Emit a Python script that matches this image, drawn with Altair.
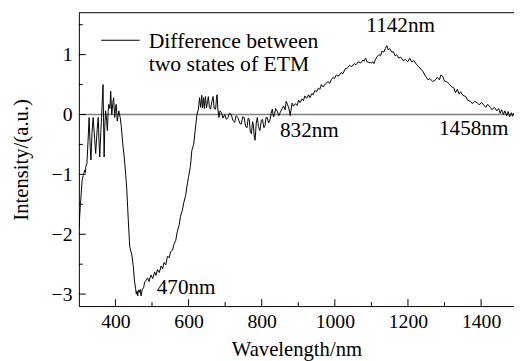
import altair as alt
import pandas as pd

# ---- data ----
wavelength = [
    300, 304, 309, 312, 314, 316, 318, 319, 322, 325, 328, 331, 333, 336, 339, 343, 346, 350, 353, 355,
    357, 360, 362, 366, 369, 371, 373, 376, 378, 380, 382, 385, 387, 390, 393, 395, 398, 400, 402, 405,
    409, 413, 416, 420, 424, 428, 431, 435, 439, 445, 449, 452, 455, 457, 459, 461, 463, 466, 468, 470,
    473, 477, 480, 483, 488, 492, 497, 502, 507, 511, 515, 520, 525, 529, 533, 538, 542, 547, 551, 556,
    560, 565, 569, 574, 578, 583, 587, 592, 596, 600, 605, 609, 614, 618, 623, 627, 630, 633, 636, 638,
    641, 643, 646, 649, 652, 654, 657, 660, 664, 667, 670, 674, 676, 678, 680, 683, 686, 690, 694, 699,
    703, 708, 712, 717, 721, 726, 730, 735, 740, 744, 748, 752, 756, 760, 763, 766, 769, 772, 775, 777,
    780, 782, 785, 788, 791, 795, 799, 802, 806, 809, 812, 815, 819, 822, 826, 829, 832, 835, 838, 842,
    847, 851, 856, 860, 864, 867, 871, 874, 878, 883, 887, 892, 897, 901, 905, 910, 914, 918, 923, 928,
    932, 937, 941, 945, 950, 955, 959, 963, 968, 972, 977, 981, 986, 990, 995, 999, 1004, 1010, 1017, 1022,
    1028, 1035, 1040, 1046, 1053, 1058, 1064, 1071, 1077, 1080, 1084, 1088, 1093, 1100, 1104, 1107, 1111, 1116, 1121, 1125,
    1129, 1134, 1138, 1142, 1146, 1150, 1156, 1160, 1165, 1169, 1175, 1180, 1187, 1193, 1199, 1205, 1210, 1216, 1223, 1229,
    1235, 1241, 1248, 1255, 1260, 1268, 1275, 1280, 1286, 1290, 1295, 1300, 1308, 1314, 1320, 1326, 1330, 1335, 1340, 1344,
    1350, 1358, 1363, 1371, 1376, 1382, 1389, 1395, 1401, 1407, 1413, 1418, 1425, 1430, 1436, 1443, 1448, 1452, 1456, 1461,
    1465, 1470, 1474, 1478, 1483, 1486, 1489,
]
intensity = [
    -1.91, -1.53, -1.09, -1.02, -0.98, -0.93, -0.97, -0.87, -0.82, -0.45, -0.05, -0.55, -0.76, -0.30, -0.05, -0.40, -0.65, -0.25, -0.05, -0.45,
    -0.71, -0.30, -0.05, 0.50, -0.71, -0.20, 0.06, -0.10, -0.27, 0.05, 0.17, 0.10, 0.39, 0.00, 0.20, 0.28, -0.05, 0.10, 0.17, -0.11,
    0.06, -0.05, -0.20, -0.49, -0.71, -1.00, -1.25, -1.75, -2.21, -2.35, -2.55, -2.78, -2.90, -3.00, -2.95, -3.03, -2.93, -2.97, -2.92, -3.03,
    -2.93, -2.89, -2.80, -2.78, -2.73, -2.79, -2.68, -2.74, -2.63, -2.69, -2.59, -2.64, -2.53, -2.58, -2.47, -2.51, -2.37, -2.39, -2.29, -2.27,
    -2.17, -2.10, -1.96, -1.85, -1.70, -1.60, -1.47, -1.35, -1.18, -1.04, -0.87, -0.60, -0.50, -0.27, 0.00, 0.09, 0.28, 0.12, 0.32, 0.11,
    0.28, 0.10, 0.30, 0.11, 0.22, 0.30, 0.12, 0.09, 0.22, 0.30, 0.10, 0.09, 0.25, 0.33, 0.10, -0.05, 0.06, 0.03, -0.06, 0.00,
    -0.08, -0.05, 0.02, 0.00, -0.10, -0.13, -0.02, -0.05, -0.15, -0.16, -0.04, -0.05, -0.20, -0.22, -0.06, -0.08, -0.30, -0.32, -0.12, -0.16,
    -0.40, -0.43, -0.15, -0.05, -0.20, -0.27, -0.10, -0.08, -0.22, -0.19, -0.05, -0.05, -0.14, -0.11, 0.02, 0.09, -0.04, 0.00, 0.10, 0.06,
    -0.02, 0.04, 0.10, 0.14, 0.08, 0.22, 0.16, 0.11, -0.02, 0.19, 0.14, 0.18, 0.15, 0.24, 0.20, 0.26, 0.23, 0.31, 0.27, 0.33,
    0.28, 0.35, 0.33, 0.40, 0.38, 0.44, 0.42, 0.50, 0.46, 0.50, 0.52, 0.55, 0.52, 0.58, 0.62, 0.60, 0.66, 0.64, 0.70, 0.68,
    0.76, 0.78, 0.82, 0.80, 0.85, 0.83, 0.88, 0.86, 0.91, 0.89, 0.94, 0.88, 0.87, 0.86, 0.88, 0.85, 0.92, 0.97, 1.00, 0.98,
    1.06, 1.04, 1.10, 1.15, 1.08, 1.10, 1.04, 1.05, 0.98, 1.00, 0.94, 0.96, 0.90, 0.92, 0.88, 0.94, 0.88, 0.90, 0.84, 0.80,
    0.76, 0.72, 0.64, 0.58, 0.60, 0.55, 0.58, 0.62, 0.58, 0.66, 0.64, 0.56, 0.54, 0.50, 0.46, 0.44, 0.36, 0.42, 0.34, 0.38,
    0.32, 0.30, 0.24, 0.22, 0.18, 0.22, 0.20, 0.16, 0.20, 0.16, 0.12, 0.17, 0.12, 0.08, 0.12, 0.06, 0.10, 0.02, 0.08, 0.00,
    0.06, -0.02, 0.05, -0.04, 0.03, -0.03, 0.02,
]

x_major_ticks = [400, 600, 800, 1000, 1200, 1400]
x_minor_ticks = [500, 700, 900, 1100, 1300]
y_major_ticks = [-3, -2, -1, 0, 1]
y_minor_ticks = [-2.5, -1.5, -0.5, 0.5, 1.5]

ann_text = ["1142nm", "832nm", "1458nm", "470nm"]
ann_x = [1180, 850, 1285, 513]
ann_y = [1.37, -0.38, -0.35, -3.0]
ann_align = ["center", "left", "left", "left"]

legend_label = ["Difference between", "two states of ETM"]
legend_text_x = [491, 491]
legend_text_y = [1.107, 0.72]
legend_line_x = [361, 466]
legend_line_y = 1.24

X_DOMAIN = [300, 1490]
Y_DOMAIN = [-3.2, 1.7]
W, H = 442, 298
FONT = "Liberation Serif"

xs = alt.Scale(domain=X_DOMAIN, nice=False, zero=False)
ys = alt.Scale(domain=Y_DOMAIN, nice=False, zero=False)

df = pd.DataFrame({"wl": wavelength, "val": intensity})

line = alt.Chart(df).mark_line(color="black", strokeWidth=1, clip=True).encode(
    x=alt.X("wl:Q", scale=xs, axis=alt.Axis(
        title="Wavelength/nm", values=x_major_ticks, format="d", ticks=False, grid=False,
        labelPadding=6, titleY=50, titleBaseline="alphabetic",
        labelFont=FONT, titleFont=FONT, labelFontSize=20, titleFontSize=21,
        labelColor="black", titleColor="black", titleFontWeight="normal",
        domainColor="black", domainWidth=1,
    )),
    y=alt.Y("val:Q", scale=ys, axis=alt.Axis(
        title="Intensity/(a.u.)", values=y_major_ticks, format="d", ticks=False, grid=False,
        labelPadding=7, titleX=-52, titleBaseline="alphabetic",
        labelFont=FONT, titleFont=FONT, labelFontSize=20, titleFontSize=21,
        labelColor="black", titleColor="black", titleFontWeight="normal",
        domainColor="black", domainWidth=1,
    )),
)

zero = alt.Chart(pd.DataFrame({"z": [0]})).mark_rule(color="#808080", strokeWidth=1.5).encode(
    y=alt.Y("z:Q", scale=ys)
)

top_border = alt.Chart(pd.DataFrame({"a": [0]})).mark_rule(color="black", strokeWidth=1).encode(
    x=alt.value(0), x2=alt.value(W), y=alt.value(0)
)

xmaj = alt.Chart(pd.DataFrame({"t": x_major_ticks})).mark_rule(color="black").encode(
    x=alt.X("t:Q", scale=xs), y=alt.value(H), y2=alt.value(H - 7)
)
xmin = alt.Chart(pd.DataFrame({"t": x_minor_ticks})).mark_rule(color="black").encode(
    x=alt.X("t:Q", scale=xs), y=alt.value(H), y2=alt.value(H - 4)
)
ymaj = alt.Chart(pd.DataFrame({"t": y_major_ticks})).mark_rule(color="black").encode(
    y=alt.Y("t:Q", scale=ys), x=alt.value(0), x2=alt.value(7)
)
ymin = alt.Chart(pd.DataFrame({"t": y_minor_ticks})).mark_rule(color="black").encode(
    y=alt.Y("t:Q", scale=ys), x=alt.value(0), x2=alt.value(4)
)

ann_df = pd.DataFrame({"t": ann_text, "x": ann_x, "y": ann_y, "al": ann_align})
ann_c = alt.Chart(ann_df[ann_df.al == "center"]).mark_text(
    font=FONT, fontSize=21.5, color="black", align="center", baseline="alphabetic"
).encode(x=alt.X("x:Q", scale=xs), y=alt.Y("y:Q", scale=ys), text="t:N")
ann_l = alt.Chart(ann_df[ann_df.al == "left"]).mark_text(
    font=FONT, fontSize=21.5, color="black", align="left", baseline="alphabetic"
).encode(x=alt.X("x:Q", scale=xs), y=alt.Y("y:Q", scale=ys), text="t:N")

leg_df = pd.DataFrame({"t": legend_label, "x": legend_text_x, "y": legend_text_y})
leg_text = alt.Chart(leg_df).mark_text(
    font=FONT, fontSize=22, color="black", align="left", baseline="alphabetic"
).encode(x=alt.X("x:Q", scale=xs), y=alt.Y("y:Q", scale=ys), text="t:N")
leg_line = alt.Chart(pd.DataFrame({"x": [legend_line_x[0]], "x2": [legend_line_x[1]], "y": [legend_line_y]})).mark_rule(
    color="black", strokeWidth=1
).encode(x=alt.X("x:Q", scale=xs), x2="x2:Q", y=alt.Y("y:Q", scale=ys))

chart = alt.layer(
    zero, line, top_border, xmaj, xmin, ymaj, ymin, ann_c, ann_l, leg_text, leg_line
).properties(
    width=W, height=H,
    autosize=alt.AutoSizeParams(type="none"),
    padding={"left": 72, "top": 2, "right": 0, "bottom": 53},
    background="white",
).configure_view(stroke=None)

chart.save("out.html", embed_options={"renderer": "svg", "actions": False})
